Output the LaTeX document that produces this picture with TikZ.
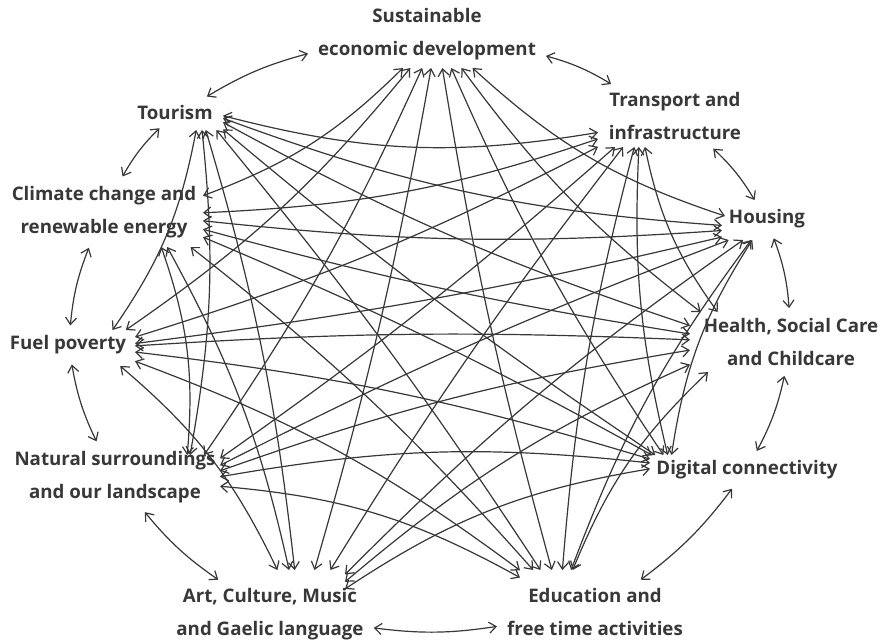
\documentclass[tikz,border=0pt]{standalone}
\usepackage{fontspec}
\setmainfont{Open Sans}
\usetikzlibrary{arrows.meta}
\definecolor{ink}{HTML}{383838}
\begin{document}
\begin{tikzpicture}[x=1pt,y=-1pt,
  lbl/.style={font=\fontsize{18.7}{33}\selectfont\bfseries, text=ink, align=center, inner sep=6pt},
  hub/.style={rectangle, inner sep=0pt, outer sep=0pt},
  link/.style={draw=ink, line width=1.2pt, {Straight Barb[length=7pt,width=11pt]}-{Straight Barb[length=7pt,width=11pt]}},
  dtwo/.style={link, bend right=12},
  dthree/.style={link, bend right=8},
  dfour/.style={link, bend right=5},
  dfive/.style={link, bend right=3},
  nbr/.style={link, bend left=8, shorten >=4pt, shorten <=4pt}]
\useasboundingbox[fill=white] (0,0) rectangle (885,641);

\node[lbl] (sed) at (427,34) {Sustainable\\economic development};
\node[lbl] (tra) at (675,116) {Transport and\\infrastructure};
\node[lbl] (hou) at (767,219) {Housing};
\node[lbl] (hea) at (791,342) {Health, Social Care\\and Childcare};
\node[lbl] (dig) at (747,470) {Digital connectivity};
\node[lbl] (edu) at (595,612) {Education and\\free time activities};
\node[lbl] (art) at (270,614) {Art, Culture, Music\\and Gaelic language};
\node[lbl] (nat) at (115,477) {Natural surroundings\\and our landscape};
\node[lbl] (fue) at (68,345) {Fuel poverty};
\node[lbl] (cli) at (104,212) {Climate change and\\renewable energy};
\node[lbl] (tou) at (175,112) {Tourism};

% attachment areas of the long connectors
\node[hub, minimum width=120pt, minimum height=66pt]  (hsed) at (437,35) {};
\node[hub, minimum width=84pt,  minimum height=44pt]  (htra) at (640,125) {};
\node[hub, minimum width=76pt,  minimum height=24pt]  (hhou) at (760,228) {};
\node[hub, minimum width=100pt, minimum height=60pt]  (hhea) at (740,342) {};
\node[hub, minimum width=40pt,  minimum height=20pt]  (hdig) at (670,465) {};
\node[hub, minimum width=80pt,  minimum height=60pt]  (hedu) at (560,600) {};
\node[hub, minimum width=90pt,  minimum height=100pt] (hart) at (300,620) {};
\node[hub, minimum width=70pt,  minimum height=56pt]  (hnat) at (185,483) {};
\node[hub, minimum width=70pt,  minimum height=36pt]  (hfue) at (100,348) {};
\node[hub, minimum width=106pt, minimum height=64pt]  (hcli) at (150,215) {};
\node[hub, minimum width=46pt,  minimum height=40pt]  (htou) at (200,110) {};

% neighbours
\draw[nbr] (sed) to (tra);
\draw[nbr] (tra) to (hou);
\draw[nbr] (hou) to (hea);
\draw[nbr] (hea) to (dig);
\draw[nbr] (dig) to (edu);
\draw[nbr] (edu) to (art);
\draw[nbr] (art) to (nat);
\draw[nbr] (nat) to (fue);
\draw[nbr] (fue) to (cli);
\draw[nbr] (cli) to (tou);
\draw[nbr] (tou) to (sed);

% long connectors
\draw[dtwo] (hsed) to (hhou);   \draw[dthree] (hsed) to (hhea);  \draw[dfour] (hsed) to (hdig);  \draw[dfive] (hsed) to (hedu);
\draw[dtwo] (htra) to (hhea);   \draw[dthree] (htra) to (hdig);  \draw[dfour] (htra) to (hedu);  \draw[dfive] (htra) to (hart);
\draw[dtwo] (hhou) to (hdig);   \draw[dthree] (hhou) to (hedu);  \draw[dfour] (hhou) to (hart);  \draw[dfive] (hhou) to (hnat);
\draw[dtwo] (hhea) to (hedu);   \draw[dthree] (hhea) to (hart);  \draw[dfour] (hhea) to (hnat);  \draw[dfive] (hhea) to (hfue);
\draw[dtwo] (hdig) to (hart);   \draw[dthree] (hdig) to (hnat);  \draw[dfour] (hdig) to (hfue);  \draw[dfive] (hdig) to (hcli);
\draw[dtwo] (hedu) to (hnat);   \draw[dthree] (hedu) to (hfue);  \draw[dfour] (hedu) to (hcli);  \draw[dfive] (hedu) to (htou);
\draw[dtwo] (hart) to (hfue);   \draw[dthree] (hart) to (hcli);  \draw[dfour] (hart) to (htou);  \draw[dfive] (hart) to (hsed);
\draw[dtwo] (hnat) to (hcli);   \draw[dthree] (hnat) to (htou);  \draw[dfour] (hnat) to (hsed);  \draw[dfive] (hnat) to (htra);
\draw[dtwo] (hfue) to (htou);   \draw[dthree] (hfue) to (hsed);  \draw[dfour] (hfue) to (htra);  \draw[dfive] (hfue) to (hhou);
\draw[dtwo] (hcli) to (hsed);   \draw[dthree] (hcli) to (htra);  \draw[dfour] (hcli) to (hhou);  \draw[dfive] (hcli) to (hhea);
\draw[dtwo] (htou) to (htra);   \draw[dthree] (htou) to (hhou);  \draw[dfour] (htou) to (hhea);  \draw[dfive] (htou) to (hdig);
\end{tikzpicture}
\end{document}
